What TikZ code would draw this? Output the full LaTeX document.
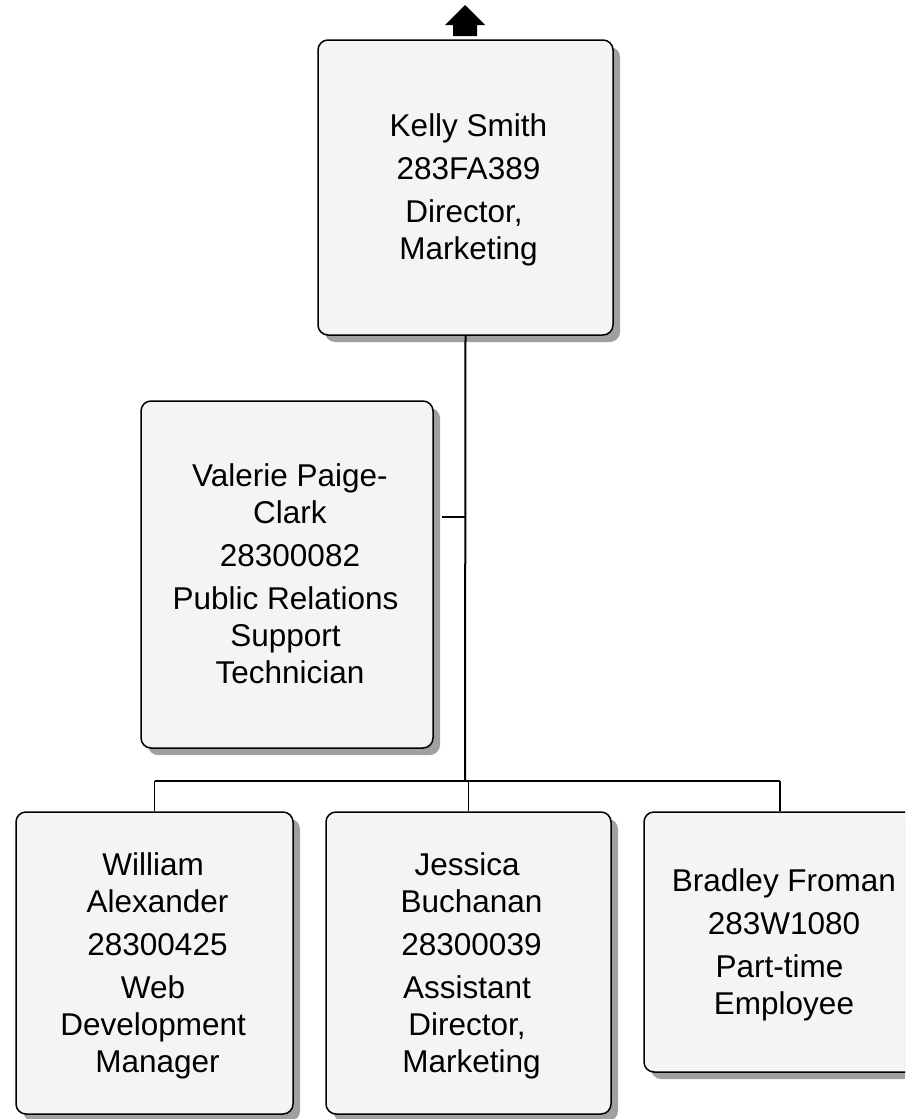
\documentclass[tikz,border=0pt]{standalone}
\usepackage{fontspec}
\setmainfont{Liberation Sans}
\usetikzlibrary{shadows}
\newcommand\lstr{\rule[-6.7pt]{0pt}{35.2pt}}
\newcommand\tsp{\kern0.28em}
\definecolor{boxfill}{HTML}{F4F4F4}
\definecolor{shade}{HTML}{A0A0A0}
\begin{document}
\begin{tikzpicture}[x=1pt,y=-1pt,
  person/.style={draw=black, line width=1.5pt, fill=boxfill, rounded corners=10pt,
    inner sep=0pt,
    drop shadow={shadow xshift=7pt, shadow yshift=-7pt, fill=shade, opacity=1}},
  label/.style={inner sep=0pt, align=center, text=black,
    font=\fontsize{31.5}{37}\selectfont},
  trunk/.style={line width=2pt},
  branch/.style={line width=1.2pt}]
\useasboundingbox (0,0) rectangle (905,1119);
\clip (0,0) rectangle (905,1119);

% boxes
\node[person, minimum width=295pt, minimum height=295pt] (kelly) at (465.5,187.5) {};
\node[person, minimum width=292pt, minimum height=347pt] (valerie) at (287,574.5) {};
\node[person, minimum width=277pt, minimum height=302pt] (william) at (154.5,963) {};
\node[person, minimum width=285pt, minimum height=302pt] (jessica) at (468.5,963) {};
\node[person, minimum width=280pt, minimum height=260pt] (bradley) at (784,942) {};

% texts
\node[label] (kellyT) at ([xshift=3pt]kelly.center)
  {\lstr Kelly Smith\\[6pt]\lstr 283FA389\\[6pt]\lstr Director,\tsp\\\lstr Marketing};
\node[label] (valerieT) at ([xshift=3pt]valerie.center)
  {\lstr Valerie Paige-\\\lstr Clark\\[6pt]\lstr 28300082\\[6pt]\lstr Public Relations\tsp\\\lstr Support\tsp\\\lstr Technician};
\node[label] (williamT) at ([xshift=3pt]william.center)
  {\lstr William\tsp\\\lstr Alexander\\[6pt]\lstr 28300425\\[6pt]\lstr Web\tsp\\\lstr Development\tsp\\\lstr Manager};
\node[label] (jessicaT) at ([xshift=3pt]jessica.center)
  {\lstr Jessica\tsp\\\lstr Buchanan\\[6pt]\lstr 28300039\\[6pt]\lstr Assistant\tsp\\\lstr Director,\tsp\\\lstr Marketing};
\node[label] (bradleyT) at ([xshift=0pt]bradley.center)
  {\lstr Bradley Froman\\[6pt]\lstr 283W1080\\[6pt]\lstr Part-time\tsp\\\lstr Employee};

% up arrow above the top box
\fill[black] (465,5) -- (485,25) -- (477,25) -- (477,36) -- (453,36) -- (453,25) -- (445,25) -- cycle;

% connectors
\coordinate (bus) at (465,781);
\coordinate (valJ) at (465,517);
\coordinate (busL) at (william.north |- bus);
\coordinate (busM) at (jessica.north |- bus);
\coordinate (busR) at (780,781);
\draw[trunk] (kelly.south) -- (bus);
\draw[branch] ([xshift=8pt]valerie.east |- valJ) -- (valJ);
\draw[branch] (busL) -- (busR);
\draw[branch] (busL) -- (william.north);
\draw[branch] (busM) -- (jessica.north);
\draw[branch] (busR) -- (busR |- bradley.north);
\end{tikzpicture}
\end{document}
